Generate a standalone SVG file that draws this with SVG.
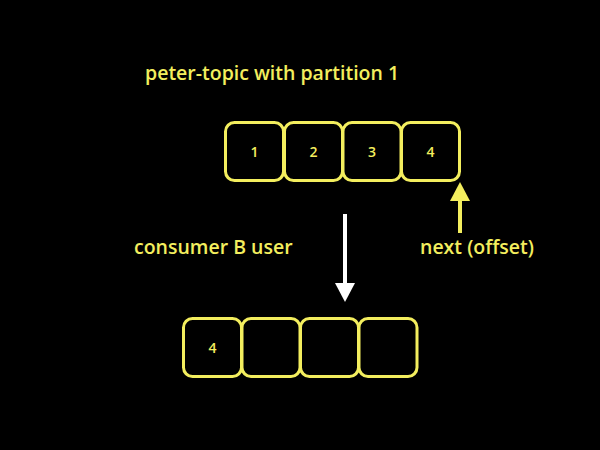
<svg xmlns="http://www.w3.org/2000/svg" width="600" height="450" viewBox="0 0 600 450">
<style>
.cell{fill:#000;stroke:#f3ee5e;stroke-width:3}
.lbl{font-family:"Open Sans","Noto Sans",sans-serif;fill:#f3ee5e}
.big{font-size:19.5px;font-weight:600}
.num{font-size:14px;font-weight:600;text-anchor:middle}
</style>
<rect width="600" height="450" fill="#000"/>
<text class="lbl big" x="145" y="80">peter-topic with partition 1</text>
<g id="topic">
<g id="t1"><rect class="cell" x="225.5" y="122.5" width="58" height="58" rx="9"/><text class="lbl num" x="254.5" y="157">1</text></g>
<g id="t2"><rect class="cell" x="284.5" y="122.5" width="58" height="58" rx="9"/><text class="lbl num" x="313.5" y="157">2</text></g>
<g id="t3"><rect class="cell" x="343" y="122.5" width="58" height="58" rx="9"/><text class="lbl num" x="372" y="157">3</text></g>
<g id="t4"><rect class="cell" x="401.5" y="122.5" width="58" height="58" rx="9"/><text class="lbl num" x="430.5" y="157">4</text></g>
</g>
<g id="consumer">
<g id="c1"><rect class="cell" x="183.5" y="318.5" width="58" height="58" rx="9"/><text class="lbl num" x="212.5" y="353">4</text></g>
<g id="c2"><rect class="cell" x="242" y="318.5" width="58" height="58" rx="9"/></g>
<g id="c3"><rect class="cell" x="300.5" y="318.5" width="58" height="58" rx="9"/></g>
<g id="c4"><rect class="cell" x="359" y="318.5" width="58" height="58" rx="9"/></g>
</g>
<g id="connectors">
<line x1="345" y1="214" x2="345" y2="284" stroke="#fff" stroke-width="4"/>
<polygon points="335,283 355,283 345,302" fill="#fff"/>
<line x1="460" y1="198" x2="460" y2="233" stroke="#f3ee5e" stroke-width="4"/>
<polygon points="450,201 470,201 460,182" fill="#f3ee5e"/>
</g>
<text class="lbl big" x="134" y="254">consumer B user</text>
<text class="lbl big" x="420" y="254">next (offset)</text>
</svg>
